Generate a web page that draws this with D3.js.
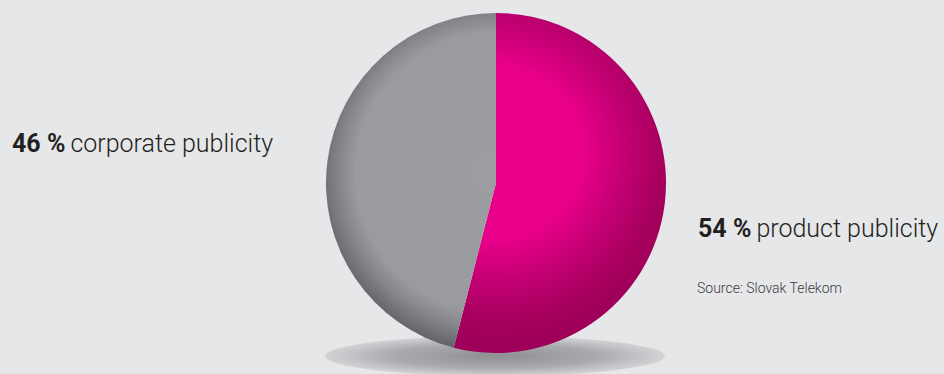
<!DOCTYPE html>
<html lang="en">
<head>
<meta charset="UTF-8">
<title>Publicity split</title>
<style>
    body { margin: 0; background: #e6e7e9; }
    svg { display: block; }
    .lbl { font-family: "Roboto", sans-serif; fill: #231f20; font-weight: 300; }
    .lbl .pct { font-weight: bold; }
    .src { font-family: "Roboto", sans-serif; fill: #3a3a3c; font-size: 14px; font-weight: 300; }
</style>
</head>
<body>
<svg></svg>
<script src="https://d3js.org/d3.v7.min.js"></script>
<script>

const categories = ['product publicity', 'corporate publicity'];
const values = [54, 46];
const pctLabels = ['54 %', '46 %'];
const source = 'Source: Slovak Telekom';

const width = 944, height = 374;
const cx = 496, cy = 183, radius = 170;

const svg = d3.select('svg')
    .attr('width', width)
    .attr('height', height);

svg.append('rect')
    .attr('width', width).attr('height', height)
    .attr('fill', '#e6e7e9');

const defs = svg.append('defs');

// shadow under the pie
const sh = defs.append('radialGradient').attr('id', 'shadow');
sh.append('stop').attr('offset', '0').attr('stop-color', '#8e8f93');
sh.append('stop').attr('offset', '0.6').attr('stop-color', '#a9aaad');
sh.append('stop').attr('offset', '1').attr('stop-color', '#d2d3d5');

// slice shading (coords are relative to the pie group)
const pink = defs.append('radialGradient').attr('id', 'g0')
    .attr('gradientUnits', 'userSpaceOnUse')
    .attr('cx', 0).attr('cy', -30).attr('r', 215);
[[0, '#ea008a'], [0.4, '#e9008a'], [0.6, '#c20072'], [0.8, '#a3005c'], [1, '#9a0057']].forEach(s =>
    pink.append('stop').attr('offset', s[0]).attr('stop-color', s[1]));

const grey = defs.append('radialGradient').attr('id', 'g1')
    .attr('gradientUnits', 'userSpaceOnUse')
    .attr('cx', 0).attr('cy', -10).attr('r', 182);
[[0, '#9c9da1'], [0.77, '#9a9b9f'], [0.86, '#86878a'], [1, '#5f6063']].forEach(s =>
    grey.append('stop').attr('offset', s[0]).attr('stop-color', s[1]));

svg.append('ellipse')
    .attr('cx', cx - 1).attr('cy', 356)
    .attr('rx', 170).attr('ry', 20)
    .attr('fill', 'url(#shadow)');

const pie = d3.pie().sort(null);
const arc = d3.arc().innerRadius(0).outerRadius(radius);

svg.append('g')
    .attr('transform', `translate(${cx}, ${cy})`)
    .selectAll('path')
    .data(pie(values))
    .join('path')
        .attr('d', arc)
        .attr('fill', (d, i) => `url(#g${i})`);

// labels
const labelPos = [
    { x: 698, y: 237 },
    { x: 12, y: 152 }
];

categories.forEach((c, i) => {
    const t = svg.append('text')
        .attr('class', 'lbl')
        .attr('x', labelPos[i].x)
        .attr('y', labelPos[i].y)
        .attr('font-size', 25);
    t.append('tspan').attr('class', 'pct').text(pctLabels[i]);
    t.append('tspan').attr('dx', 5).text(c);
});

svg.append('text')
    .attr('class', 'src')
    .attr('x', 697)
    .attr('y', 293)
    .text(source);

</script>
</body>
</html>
